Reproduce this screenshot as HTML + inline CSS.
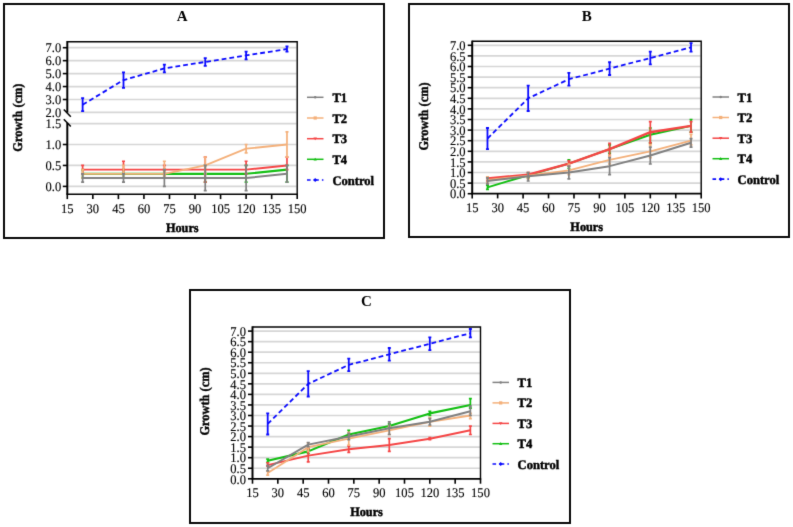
<!DOCTYPE html>
<html><head><meta charset="utf-8"><title>Growth charts</title>
<style>html,body{margin:0;padding:0;background:#fff;}body{width:793px;height:527px;overflow:hidden;font-family:"Liberation Serif",serif;}svg{display:block;}text{font-family:"Liberation Serif",serif;}</style>
</head><body>
<svg width="793" height="527" viewBox="0 0 793 527" font-family='"Liberation Serif", serif' fill="#000">
<defs><filter id="soft" filterUnits="userSpaceOnUse" x="0" y="0" width="793" height="527" color-interpolation-filters="sRGB"><feConvolveMatrix order="3" kernelMatrix="0.0100 0.0800 0.0100 0.0800 0.6400 0.0800 0.0100 0.0800 0.0100" divisor="1" edgeMode="duplicate" preserveAlpha="true"/></filter></defs>
<g filter="url(#soft)">
<rect width="793" height="527" fill="#fff"/>
<rect x="4" y="4" width="380" height="234" fill="none" stroke="#0a0a0a" stroke-width="2"/>
<text x="182.25" y="21.2" font-size="15" font-weight="bold" text-anchor="middle" >A</text>
<path d="M68.3,47.7H296.5" stroke="#d6d6d6" stroke-width="1.7"/>
<path d="M68.3,60.65H296.5" stroke="#d6d6d6" stroke-width="1.7"/>
<path d="M68.3,73.6H296.5" stroke="#d6d6d6" stroke-width="1.7"/>
<path d="M68.3,86.55H296.5" stroke="#d6d6d6" stroke-width="1.7"/>
<path d="M68.3,99.5H296.5" stroke="#d6d6d6" stroke-width="1.7"/>
<path d="M68.3,112.45H296.5" stroke="#d6d6d6" stroke-width="1.7"/>
<path d="M68.3,123.55H296.5" stroke="#d6d6d6" stroke-width="1.7"/>
<path d="M68.3,144.5H296.5" stroke="#d6d6d6" stroke-width="1.7"/>
<path d="M68.3,165.45H296.5" stroke="#d6d6d6" stroke-width="1.7"/>
<path d="M68.3,186.4H296.5" stroke="#d6d6d6" stroke-width="1.7"/>
<path d="M82.63,173.83L123.5,173.83L164.37,173.83L205.24,173.83L246.11,173.83L286.98,169.64" stroke="#12bf12" stroke-width="2.1" fill="none" stroke-linejoin="round"/>
<path d="M82.63,169.64V178.02M81.13,169.64H84.13M81.13,178.02H84.13" stroke="#12bf12" stroke-width="1.7" fill="none"/>
<path d="M123.5,169.64V178.02M122,169.64H125M122,178.02H125" stroke="#12bf12" stroke-width="1.7" fill="none"/>
<path d="M164.37,169.64V178.02M162.87,169.64H165.87M162.87,178.02H165.87" stroke="#12bf12" stroke-width="1.7" fill="none"/>
<path d="M205.24,165.45V182.21M203.74,165.45H206.74M203.74,182.21H206.74" stroke="#12bf12" stroke-width="1.7" fill="none"/>
<path d="M246.11,165.45V182.21M244.61,165.45H247.61M244.61,182.21H247.61" stroke="#12bf12" stroke-width="1.7" fill="none"/>
<path d="M286.98,165.45V182.21M285.48,165.45H288.48M285.48,182.21H288.48" stroke="#12bf12" stroke-width="1.7" fill="none"/>
<path d="M82.63,169.64L123.5,169.64L164.37,169.64L205.24,169.64L246.11,169.64L286.98,165.45" stroke="#f54545" stroke-width="1.9" fill="none" stroke-linejoin="round"/>
<path d="M82.63,165.45V173.83M81.13,165.45H84.13M81.13,173.83H84.13" stroke="#f54545" stroke-width="1.7" fill="none"/>
<path d="M123.5,161.26V173.83M122,161.26H125M122,173.83H125" stroke="#f54545" stroke-width="1.7" fill="none"/>
<path d="M164.37,165.45V173.83M162.87,165.45H165.87M162.87,173.83H165.87" stroke="#f54545" stroke-width="1.7" fill="none"/>
<path d="M205.24,157.07V182.21M203.74,157.07H206.74M203.74,182.21H206.74" stroke="#f54545" stroke-width="1.7" fill="none"/>
<path d="M246.11,161.26V173.83M244.61,161.26H247.61M244.61,173.83H247.61" stroke="#f54545" stroke-width="1.7" fill="none"/>
<path d="M286.98,157.07V169.64M285.48,157.07H288.48M285.48,169.64H288.48" stroke="#f54545" stroke-width="1.7" fill="none"/>
<path d="M82.63,173.83L123.5,173.83L164.37,173.83L205.24,165.45L246.11,148.69L286.98,144.5" stroke="#f4b07a" stroke-width="1.8" fill="none" stroke-linejoin="round"/>
<path d="M82.63,169.64V178.02M81.13,169.64H84.13M81.13,178.02H84.13" stroke="#f4b07a" stroke-width="1.7" fill="none"/>
<path d="M123.5,165.45V178.02M122,165.45H125M122,178.02H125" stroke="#f4b07a" stroke-width="1.7" fill="none"/>
<path d="M164.37,161.26V175.93M162.87,161.26H165.87M162.87,175.93H165.87" stroke="#f4b07a" stroke-width="1.7" fill="none"/>
<path d="M205.24,157.07V173.83M203.74,157.07H206.74M203.74,173.83H206.74" stroke="#f4b07a" stroke-width="1.7" fill="none"/>
<path d="M246.11,144.5V152.88M244.61,144.5H247.61M244.61,152.88H247.61" stroke="#f4b07a" stroke-width="1.7" fill="none"/>
<path d="M286.98,131.93V157.07M285.48,131.93H288.48M285.48,157.07H288.48" stroke="#f4b07a" stroke-width="1.7" fill="none"/>
<path d="M82.63,178.02L123.5,178.02L164.37,178.02L205.24,178.02L246.11,178.02L286.98,173.83" stroke="#808080" stroke-width="2.0" fill="none" stroke-linejoin="round"/>
<path d="M82.63,173.83V182.21M81.13,173.83H84.13M81.13,182.21H84.13" stroke="#808080" stroke-width="1.7" fill="none"/>
<path d="M123.5,173.83V182.21M122,173.83H125M122,182.21H125" stroke="#808080" stroke-width="1.7" fill="none"/>
<path d="M164.37,169.64V186.4M162.87,169.64H165.87M162.87,186.4H165.87" stroke="#808080" stroke-width="1.7" fill="none"/>
<path d="M205.24,165.45V190.59M203.74,165.45H206.74M203.74,190.59H206.74" stroke="#808080" stroke-width="1.7" fill="none"/>
<path d="M246.11,165.45V190.59M244.61,165.45H247.61M244.61,190.59H247.61" stroke="#808080" stroke-width="1.7" fill="none"/>
<path d="M286.98,165.45V182.21M285.48,165.45H288.48M285.48,182.21H288.48" stroke="#808080" stroke-width="1.7" fill="none"/>
<path d="M82.63,104.68L123.5,80.08L164.37,68.42L205.24,61.95L246.11,55.47L286.98,49" stroke="#0a0aff" stroke-width="1.8" fill="none" stroke-dasharray="4.8 3" stroke-linejoin="round"/>
<path d="M82.63,98.2V111.16M81.13,98.2H84.13M81.13,111.16H84.13" stroke="#0a0aff" stroke-width="1.8" fill="none"/>
<path d="M123.5,72.31V87.84M122,72.31H125M122,87.84H125" stroke="#0a0aff" stroke-width="1.8" fill="none"/>
<path d="M164.37,64.53V72.31M162.87,64.53H165.87M162.87,72.31H165.87" stroke="#0a0aff" stroke-width="1.8" fill="none"/>
<path d="M205.24,58.06V65.83M203.74,58.06H206.74M203.74,65.83H206.74" stroke="#0a0aff" stroke-width="1.8" fill="none"/>
<path d="M246.11,51.59V59.36M244.61,51.59H247.61M244.61,59.36H247.61" stroke="#0a0aff" stroke-width="1.8" fill="none"/>
<path d="M286.98,46.41V51.59M285.48,46.41H288.48M285.48,51.59H288.48" stroke="#0a0aff" stroke-width="1.8" fill="none"/>
<path d="M67.3,41.7H297.2V194.3" stroke="#000" stroke-width="1.4" fill="none"/>
<path d="M67.3,41V112.6" stroke="#000" stroke-width="2" fill="none"/>
<path d="M67.3,122.8V194" stroke="#000" stroke-width="2" fill="none"/>
<path d="M63.8,109.4L70.8,116.8" stroke="#000" stroke-width="1.5" fill="none"/>
<path d="M63.8,119.3L70.8,126.6" stroke="#000" stroke-width="1.5" fill="none"/>
<path d="M66.3,194.3H297.9" stroke="#000" stroke-width="1.6" fill="none"/>
<path d="M62.8,47.7H67.3" stroke="#000" stroke-width="1.6"/>
<text x="0" y="0" transform="translate(61.2,52.4) scale(0.95,1)" font-size="13.2" font-weight="normal" text-anchor="end" text-rendering="geometricPrecision" stroke="#000" stroke-width="0.12" >7.0</text>
<path d="M62.8,60.65H67.3" stroke="#000" stroke-width="1.6"/>
<text x="0" y="0" transform="translate(61.2,65.35) scale(0.95,1)" font-size="13.2" font-weight="normal" text-anchor="end" text-rendering="geometricPrecision" stroke="#000" stroke-width="0.12" >6.0</text>
<path d="M62.8,73.6H67.3" stroke="#000" stroke-width="1.6"/>
<text x="0" y="0" transform="translate(61.2,78.3) scale(0.95,1)" font-size="13.2" font-weight="normal" text-anchor="end" text-rendering="geometricPrecision" stroke="#000" stroke-width="0.12" >5.0</text>
<path d="M62.8,86.55H67.3" stroke="#000" stroke-width="1.6"/>
<text x="0" y="0" transform="translate(61.2,91.25) scale(0.95,1)" font-size="13.2" font-weight="normal" text-anchor="end" text-rendering="geometricPrecision" stroke="#000" stroke-width="0.12" >4.0</text>
<path d="M62.8,99.5H67.3" stroke="#000" stroke-width="1.6"/>
<text x="0" y="0" transform="translate(61.2,104.2) scale(0.95,1)" font-size="13.2" font-weight="normal" text-anchor="end" text-rendering="geometricPrecision" stroke="#000" stroke-width="0.12" >3.0</text>
<text x="0" y="0" transform="translate(61.2,117.15) scale(0.95,1)" font-size="13.2" font-weight="normal" text-anchor="end" text-rendering="geometricPrecision" stroke="#000" stroke-width="0.12" >2.0</text>
<text x="0" y="0" transform="translate(61.2,128.25) scale(0.95,1)" font-size="13.2" font-weight="normal" text-anchor="end" text-rendering="geometricPrecision" stroke="#000" stroke-width="0.12" >1.5</text>
<path d="M62.8,144.5H67.3" stroke="#000" stroke-width="1.6"/>
<text x="0" y="0" transform="translate(61.2,149.2) scale(0.95,1)" font-size="13.2" font-weight="normal" text-anchor="end" text-rendering="geometricPrecision" stroke="#000" stroke-width="0.12" >1.0</text>
<path d="M62.8,165.45H67.3" stroke="#000" stroke-width="1.6"/>
<text x="0" y="0" transform="translate(61.2,170.15) scale(0.95,1)" font-size="13.2" font-weight="normal" text-anchor="end" text-rendering="geometricPrecision" stroke="#000" stroke-width="0.12" >0.5</text>
<path d="M62.8,186.4H67.3" stroke="#000" stroke-width="1.6"/>
<text x="0" y="0" transform="translate(61.2,191.1) scale(0.95,1)" font-size="13.2" font-weight="normal" text-anchor="end" text-rendering="geometricPrecision" stroke="#000" stroke-width="0.12" >0.0</text>
<path d="M67.3,194.3V199.1" stroke="#000" stroke-width="1.6"/>
<text x="0" y="0" transform="translate(67.3,213) scale(0.95,1)" font-size="13.2" font-weight="normal" text-anchor="middle" text-rendering="geometricPrecision" stroke="#000" stroke-width="0.12" >15</text>
<path d="M92.84,194.3V199.1" stroke="#000" stroke-width="1.6"/>
<text x="0" y="0" transform="translate(92.84,213) scale(0.95,1)" font-size="13.2" font-weight="normal" text-anchor="middle" text-rendering="geometricPrecision" stroke="#000" stroke-width="0.12" >30</text>
<path d="M118.39,194.3V199.1" stroke="#000" stroke-width="1.6"/>
<text x="0" y="0" transform="translate(118.39,213) scale(0.95,1)" font-size="13.2" font-weight="normal" text-anchor="middle" text-rendering="geometricPrecision" stroke="#000" stroke-width="0.12" >45</text>
<path d="M143.93,194.3V199.1" stroke="#000" stroke-width="1.6"/>
<text x="0" y="0" transform="translate(143.93,213) scale(0.95,1)" font-size="13.2" font-weight="normal" text-anchor="middle" text-rendering="geometricPrecision" stroke="#000" stroke-width="0.12" >60</text>
<path d="M169.48,194.3V199.1" stroke="#000" stroke-width="1.6"/>
<text x="0" y="0" transform="translate(169.48,213) scale(0.95,1)" font-size="13.2" font-weight="normal" text-anchor="middle" text-rendering="geometricPrecision" stroke="#000" stroke-width="0.12" >75</text>
<path d="M195.02,194.3V199.1" stroke="#000" stroke-width="1.6"/>
<text x="0" y="0" transform="translate(195.02,213) scale(0.95,1)" font-size="13.2" font-weight="normal" text-anchor="middle" text-rendering="geometricPrecision" stroke="#000" stroke-width="0.12" >90</text>
<path d="M220.57,194.3V199.1" stroke="#000" stroke-width="1.6"/>
<text x="0" y="0" transform="translate(220.57,213) scale(0.95,1)" font-size="13.2" font-weight="normal" text-anchor="middle" text-rendering="geometricPrecision" stroke="#000" stroke-width="0.12" >105</text>
<path d="M246.11,194.3V199.1" stroke="#000" stroke-width="1.6"/>
<text x="0" y="0" transform="translate(246.11,213) scale(0.95,1)" font-size="13.2" font-weight="normal" text-anchor="middle" text-rendering="geometricPrecision" stroke="#000" stroke-width="0.12" >120</text>
<path d="M271.66,194.3V199.1" stroke="#000" stroke-width="1.6"/>
<text x="0" y="0" transform="translate(271.66,213) scale(0.95,1)" font-size="13.2" font-weight="normal" text-anchor="middle" text-rendering="geometricPrecision" stroke="#000" stroke-width="0.12" >135</text>
<path d="M297.2,194.3V199.1" stroke="#000" stroke-width="1.6"/>
<text x="0" y="0" transform="translate(297.2,213) scale(0.95,1)" font-size="13.2" font-weight="normal" text-anchor="middle" text-rendering="geometricPrecision" stroke="#000" stroke-width="0.12" >150</text>
<text x="0" y="0" transform="translate(182.25,231.6) scale(0.95,1)" font-size="12.9" font-weight="bold" text-anchor="middle" text-rendering="geometricPrecision" stroke="#000" stroke-width="0.45" >Hours</text>
<text x="0" y="0" font-size="13.3" font-weight="bold" text-anchor="middle" text-rendering="geometricPrecision" stroke="#111" stroke-width="0.45" transform="translate(22.2,117.6) rotate(-90) scale(0.93,1)">Growth (cm)</text>
<path d="M307,97.3H323.5" stroke="#808080" stroke-width="1.5"/>
<circle cx="315.2" cy="97.3" r="1.26" fill="#808080"/>
<text x="0" y="0" transform="translate(332.5,101.8) scale(0.965,1)" font-size="13.0" font-weight="bold" text-anchor="start" text-rendering="geometricPrecision" stroke="#000" stroke-width="0.45" >T1</text>
<path d="M307,118H323.5" stroke="#f4b07a" stroke-width="1.5"/>
<rect x="313.58" y="116.38" width="3.24" height="3.24" fill="#f4b07a"/>
<text x="0" y="0" transform="translate(332.5,122.5) scale(0.965,1)" font-size="13.0" font-weight="bold" text-anchor="start" text-rendering="geometricPrecision" stroke="#000" stroke-width="0.45" >T2</text>
<path d="M307,138.7H323.5" stroke="#f54545" stroke-width="1.5"/>
<path d="M313.4,137.44L317,137.44L315.2,140.32Z" fill="#f54545"/>
<text x="0" y="0" transform="translate(332.5,143.2) scale(0.965,1)" font-size="13.0" font-weight="bold" text-anchor="start" text-rendering="geometricPrecision" stroke="#000" stroke-width="0.45" >T3</text>
<path d="M307,159.3H323.5" stroke="#12bf12" stroke-width="1.5"/>
<path d="M315.2,157.68L316.82,160.6L313.58,160.6Z" fill="#12bf12"/>
<text x="0" y="0" transform="translate(332.5,163.8) scale(0.965,1)" font-size="13.0" font-weight="bold" text-anchor="start" text-rendering="geometricPrecision" stroke="#000" stroke-width="0.45" >T4</text>
<path d="M307,180H310.6M313.6,180H318.8M321.9,180H323.4" stroke="#0a0aff" stroke-width="1.7"/>
<path d="M313.22,180L315.2,178.02L317.18,180L315.2,181.98Z" fill="#0a0aff"/>
<text x="0" y="0" transform="translate(332.5,184.5) scale(0.965,1)" font-size="13.0" font-weight="bold" text-anchor="start" text-rendering="geometricPrecision" stroke="#000" stroke-width="0.45" >Control</text>
<rect x="409" y="4" width="380" height="233" fill="none" stroke="#0a0a0a" stroke-width="2"/>
<text x="586.7" y="21" font-size="15" font-weight="bold" text-anchor="middle" >B</text>
<path d="M473.2,45.3H700.5" stroke="#d6d6d6" stroke-width="1.7"/>
<path d="M473.2,55.9H700.5" stroke="#d6d6d6" stroke-width="1.7"/>
<path d="M473.2,66.5H700.5" stroke="#d6d6d6" stroke-width="1.7"/>
<path d="M473.2,77.1H700.5" stroke="#d6d6d6" stroke-width="1.7"/>
<path d="M473.2,87.7H700.5" stroke="#d6d6d6" stroke-width="1.7"/>
<path d="M473.2,98.3H700.5" stroke="#d6d6d6" stroke-width="1.7"/>
<path d="M473.2,108.9H700.5" stroke="#d6d6d6" stroke-width="1.7"/>
<path d="M473.2,119.5H700.5" stroke="#d6d6d6" stroke-width="1.7"/>
<path d="M473.2,130.1H700.5" stroke="#d6d6d6" stroke-width="1.7"/>
<path d="M473.2,140.7H700.5" stroke="#d6d6d6" stroke-width="1.7"/>
<path d="M473.2,151.3H700.5" stroke="#d6d6d6" stroke-width="1.7"/>
<path d="M473.2,161.9H700.5" stroke="#d6d6d6" stroke-width="1.7"/>
<path d="M473.2,172.5H700.5" stroke="#d6d6d6" stroke-width="1.7"/>
<path d="M473.2,183.1H700.5" stroke="#d6d6d6" stroke-width="1.7"/>
<path d="M487.47,187.34L528.18,175.26L568.89,163.6L609.6,149.18L650.31,134.76L691.02,125.86" stroke="#12bf12" stroke-width="1.9" fill="none" stroke-linejoin="round"/>
<path d="M487.47,185.22V189.46M485.97,185.22H488.97M485.97,189.46H488.97" stroke="#12bf12" stroke-width="1.7" fill="none"/>
<path d="M528.18,173.56V177.8M526.68,173.56H529.68M526.68,177.8H529.68" stroke="#12bf12" stroke-width="1.7" fill="none"/>
<path d="M568.89,159.78V168.26M567.39,159.78H570.39M567.39,168.26H570.39" stroke="#12bf12" stroke-width="1.7" fill="none"/>
<path d="M609.6,144.94V153.42M608.1,144.94H611.1M608.1,153.42H611.1" stroke="#12bf12" stroke-width="1.7" fill="none"/>
<path d="M650.31,127.98V142.82M648.81,127.98H651.81M648.81,142.82H651.81" stroke="#12bf12" stroke-width="1.7" fill="none"/>
<path d="M691.02,119.5V132.22M689.52,119.5H692.52M689.52,132.22H692.52" stroke="#12bf12" stroke-width="1.7" fill="none"/>
<path d="M487.47,178.44L528.18,174.62L568.89,163.6L609.6,149.18L650.31,132.22L691.02,125.86" stroke="#f54545" stroke-width="2.4" fill="none" stroke-linejoin="round"/>
<path d="M487.47,176.74V180.98M485.97,176.74H488.97M485.97,180.98H488.97" stroke="#f54545" stroke-width="1.7" fill="none"/>
<path d="M528.18,172.5V176.74M526.68,172.5H529.68M526.68,176.74H529.68" stroke="#f54545" stroke-width="1.7" fill="none"/>
<path d="M568.89,160.84V166.14M567.39,160.84H570.39M567.39,166.14H570.39" stroke="#f54545" stroke-width="1.7" fill="none"/>
<path d="M609.6,143.46V155.54M608.1,143.46H611.1M608.1,155.54H611.1" stroke="#f54545" stroke-width="1.7" fill="none"/>
<path d="M650.31,121.62V142.82M648.81,121.62H651.81M648.81,142.82H651.81" stroke="#f54545" stroke-width="1.7" fill="none"/>
<path d="M691.02,121.62V132.22M689.52,121.62H692.52M689.52,132.22H692.52" stroke="#f54545" stroke-width="1.7" fill="none"/>
<path d="M487.47,179.92L528.18,175.68L568.89,170.38L609.6,159.78L650.31,151.3L691.02,140.7" stroke="#f4b07a" stroke-width="1.8" fill="none" stroke-linejoin="round"/>
<path d="M487.47,176.74V183.1M485.97,176.74H488.97M485.97,183.1H488.97" stroke="#f4b07a" stroke-width="1.7" fill="none"/>
<path d="M528.18,172.5V178.86M526.68,172.5H529.68M526.68,178.86H529.68" stroke="#f4b07a" stroke-width="1.7" fill="none"/>
<path d="M568.89,164.02V174.62M567.39,164.02H570.39M567.39,174.62H570.39" stroke="#f4b07a" stroke-width="1.7" fill="none"/>
<path d="M609.6,155.54V164.02M608.1,155.54H611.1M608.1,164.02H611.1" stroke="#f4b07a" stroke-width="1.7" fill="none"/>
<path d="M650.31,144.94V157.66M648.81,144.94H651.81M648.81,157.66H651.81" stroke="#f4b07a" stroke-width="1.7" fill="none"/>
<path d="M691.02,134.34V144.94M689.52,134.34H692.52M689.52,144.94H692.52" stroke="#f4b07a" stroke-width="1.7" fill="none"/>
<path d="M487.47,180.98L528.18,176.32L568.89,172.5L609.6,166.14L650.31,155.54L691.02,142.82" stroke="#808080" stroke-width="2.0" fill="none" stroke-linejoin="round"/>
<path d="M487.47,177.8V184.16M485.97,177.8H488.97M485.97,184.16H488.97" stroke="#808080" stroke-width="1.7" fill="none"/>
<path d="M528.18,172.5V180.98M526.68,172.5H529.68M526.68,180.98H529.68" stroke="#808080" stroke-width="1.7" fill="none"/>
<path d="M568.89,166.14V178.86M567.39,166.14H570.39M567.39,178.86H570.39" stroke="#808080" stroke-width="1.7" fill="none"/>
<path d="M609.6,157.66V174.62M608.1,157.66H611.1M608.1,174.62H611.1" stroke="#808080" stroke-width="1.7" fill="none"/>
<path d="M650.31,147.06V164.02M648.81,147.06H651.81M648.81,164.02H651.81" stroke="#808080" stroke-width="1.7" fill="none"/>
<path d="M691.02,138.58V147.06M689.52,138.58H692.52M689.52,147.06H692.52" stroke="#808080" stroke-width="1.7" fill="none"/>
<path d="M487.47,138.58L528.18,98.3L568.89,79.22L609.6,68.62L650.31,58.02L691.02,47.42" stroke="#0a0aff" stroke-width="1.8" fill="none" stroke-dasharray="4.8 3" stroke-linejoin="round"/>
<path d="M487.47,127.98V149.18M485.97,127.98H488.97M485.97,149.18H488.97" stroke="#0a0aff" stroke-width="1.8" fill="none"/>
<path d="M528.18,85.58V111.02M526.68,85.58H529.68M526.68,111.02H529.68" stroke="#0a0aff" stroke-width="1.8" fill="none"/>
<path d="M568.89,72.86V85.58M567.39,72.86H570.39M567.39,85.58H570.39" stroke="#0a0aff" stroke-width="1.8" fill="none"/>
<path d="M609.6,62.26V74.98M608.1,62.26H611.1M608.1,74.98H611.1" stroke="#0a0aff" stroke-width="1.8" fill="none"/>
<path d="M650.31,51.66V64.38M648.81,51.66H651.81M648.81,64.38H651.81" stroke="#0a0aff" stroke-width="1.8" fill="none"/>
<path d="M691.02,43.18V51.66M689.52,43.18H692.52M689.52,51.66H692.52" stroke="#0a0aff" stroke-width="1.8" fill="none"/>
<path d="M472.2,41.3H701.2V193.6" stroke="#000" stroke-width="1.4" fill="none"/>
<path d="M472.2,40.6V193.6" stroke="#000" stroke-width="2" fill="none"/>
<path d="M471.2,193.6H701.9" stroke="#000" stroke-width="1.6" fill="none"/>
<path d="M467.7,45.3H472.2" stroke="#000" stroke-width="1.6"/>
<text x="0" y="0" transform="translate(465.6,50) scale(0.95,1)" font-size="13.2" font-weight="normal" text-anchor="end" text-rendering="geometricPrecision" stroke="#000" stroke-width="0.12" >7.0</text>
<path d="M467.7,55.9H472.2" stroke="#000" stroke-width="1.6"/>
<text x="0" y="0" transform="translate(465.6,60.6) scale(0.95,1)" font-size="13.2" font-weight="normal" text-anchor="end" text-rendering="geometricPrecision" stroke="#000" stroke-width="0.12" >6.5</text>
<path d="M467.7,66.5H472.2" stroke="#000" stroke-width="1.6"/>
<text x="0" y="0" transform="translate(465.6,71.2) scale(0.95,1)" font-size="13.2" font-weight="normal" text-anchor="end" text-rendering="geometricPrecision" stroke="#000" stroke-width="0.12" >6.0</text>
<path d="M467.7,77.1H472.2" stroke="#000" stroke-width="1.6"/>
<text x="0" y="0" transform="translate(465.6,81.8) scale(0.95,1)" font-size="13.2" font-weight="normal" text-anchor="end" text-rendering="geometricPrecision" stroke="#000" stroke-width="0.12" >5.5</text>
<path d="M467.7,87.7H472.2" stroke="#000" stroke-width="1.6"/>
<text x="0" y="0" transform="translate(465.6,92.4) scale(0.95,1)" font-size="13.2" font-weight="normal" text-anchor="end" text-rendering="geometricPrecision" stroke="#000" stroke-width="0.12" >5.0</text>
<path d="M467.7,98.3H472.2" stroke="#000" stroke-width="1.6"/>
<text x="0" y="0" transform="translate(465.6,103) scale(0.95,1)" font-size="13.2" font-weight="normal" text-anchor="end" text-rendering="geometricPrecision" stroke="#000" stroke-width="0.12" >4.5</text>
<path d="M467.7,108.9H472.2" stroke="#000" stroke-width="1.6"/>
<text x="0" y="0" transform="translate(465.6,113.6) scale(0.95,1)" font-size="13.2" font-weight="normal" text-anchor="end" text-rendering="geometricPrecision" stroke="#000" stroke-width="0.12" >4.0</text>
<path d="M467.7,119.5H472.2" stroke="#000" stroke-width="1.6"/>
<text x="0" y="0" transform="translate(465.6,124.2) scale(0.95,1)" font-size="13.2" font-weight="normal" text-anchor="end" text-rendering="geometricPrecision" stroke="#000" stroke-width="0.12" >3.5</text>
<path d="M467.7,130.1H472.2" stroke="#000" stroke-width="1.6"/>
<text x="0" y="0" transform="translate(465.6,134.8) scale(0.95,1)" font-size="13.2" font-weight="normal" text-anchor="end" text-rendering="geometricPrecision" stroke="#000" stroke-width="0.12" >3.0</text>
<path d="M467.7,140.7H472.2" stroke="#000" stroke-width="1.6"/>
<text x="0" y="0" transform="translate(465.6,145.4) scale(0.95,1)" font-size="13.2" font-weight="normal" text-anchor="end" text-rendering="geometricPrecision" stroke="#000" stroke-width="0.12" >2.5</text>
<path d="M467.7,151.3H472.2" stroke="#000" stroke-width="1.6"/>
<text x="0" y="0" transform="translate(465.6,156) scale(0.95,1)" font-size="13.2" font-weight="normal" text-anchor="end" text-rendering="geometricPrecision" stroke="#000" stroke-width="0.12" >2.0</text>
<path d="M467.7,161.9H472.2" stroke="#000" stroke-width="1.6"/>
<text x="0" y="0" transform="translate(465.6,166.6) scale(0.95,1)" font-size="13.2" font-weight="normal" text-anchor="end" text-rendering="geometricPrecision" stroke="#000" stroke-width="0.12" >1.5</text>
<path d="M467.7,172.5H472.2" stroke="#000" stroke-width="1.6"/>
<text x="0" y="0" transform="translate(465.6,177.2) scale(0.95,1)" font-size="13.2" font-weight="normal" text-anchor="end" text-rendering="geometricPrecision" stroke="#000" stroke-width="0.12" >1.0</text>
<path d="M467.7,183.1H472.2" stroke="#000" stroke-width="1.6"/>
<text x="0" y="0" transform="translate(465.6,187.8) scale(0.95,1)" font-size="13.2" font-weight="normal" text-anchor="end" text-rendering="geometricPrecision" stroke="#000" stroke-width="0.12" >0.5</text>
<path d="M467.7,193.7H472.2" stroke="#000" stroke-width="1.6"/>
<text x="0" y="0" transform="translate(465.6,198.4) scale(0.95,1)" font-size="13.2" font-weight="normal" text-anchor="end" text-rendering="geometricPrecision" stroke="#000" stroke-width="0.12" >0.0</text>
<path d="M472.2,193.6V198.4" stroke="#000" stroke-width="1.6"/>
<text x="0" y="0" transform="translate(472.2,212.3) scale(0.95,1)" font-size="13.2" font-weight="normal" text-anchor="middle" text-rendering="geometricPrecision" stroke="#000" stroke-width="0.12" >15</text>
<path d="M497.64,193.6V198.4" stroke="#000" stroke-width="1.6"/>
<text x="0" y="0" transform="translate(497.64,212.3) scale(0.95,1)" font-size="13.2" font-weight="normal" text-anchor="middle" text-rendering="geometricPrecision" stroke="#000" stroke-width="0.12" >30</text>
<path d="M523.09,193.6V198.4" stroke="#000" stroke-width="1.6"/>
<text x="0" y="0" transform="translate(523.09,212.3) scale(0.95,1)" font-size="13.2" font-weight="normal" text-anchor="middle" text-rendering="geometricPrecision" stroke="#000" stroke-width="0.12" >45</text>
<path d="M548.53,193.6V198.4" stroke="#000" stroke-width="1.6"/>
<text x="0" y="0" transform="translate(548.53,212.3) scale(0.95,1)" font-size="13.2" font-weight="normal" text-anchor="middle" text-rendering="geometricPrecision" stroke="#000" stroke-width="0.12" >60</text>
<path d="M573.98,193.6V198.4" stroke="#000" stroke-width="1.6"/>
<text x="0" y="0" transform="translate(573.98,212.3) scale(0.95,1)" font-size="13.2" font-weight="normal" text-anchor="middle" text-rendering="geometricPrecision" stroke="#000" stroke-width="0.12" >75</text>
<path d="M599.42,193.6V198.4" stroke="#000" stroke-width="1.6"/>
<text x="0" y="0" transform="translate(599.42,212.3) scale(0.95,1)" font-size="13.2" font-weight="normal" text-anchor="middle" text-rendering="geometricPrecision" stroke="#000" stroke-width="0.12" >90</text>
<path d="M624.87,193.6V198.4" stroke="#000" stroke-width="1.6"/>
<text x="0" y="0" transform="translate(624.87,212.3) scale(0.95,1)" font-size="13.2" font-weight="normal" text-anchor="middle" text-rendering="geometricPrecision" stroke="#000" stroke-width="0.12" >105</text>
<path d="M650.31,193.6V198.4" stroke="#000" stroke-width="1.6"/>
<text x="0" y="0" transform="translate(650.31,212.3) scale(0.95,1)" font-size="13.2" font-weight="normal" text-anchor="middle" text-rendering="geometricPrecision" stroke="#000" stroke-width="0.12" >120</text>
<path d="M675.76,193.6V198.4" stroke="#000" stroke-width="1.6"/>
<text x="0" y="0" transform="translate(675.76,212.3) scale(0.95,1)" font-size="13.2" font-weight="normal" text-anchor="middle" text-rendering="geometricPrecision" stroke="#000" stroke-width="0.12" >135</text>
<path d="M701.2,193.6V198.4" stroke="#000" stroke-width="1.6"/>
<text x="0" y="0" transform="translate(701.2,212.3) scale(0.95,1)" font-size="13.2" font-weight="normal" text-anchor="middle" text-rendering="geometricPrecision" stroke="#000" stroke-width="0.12" >150</text>
<text x="0" y="0" transform="translate(586.7,230.6) scale(0.95,1)" font-size="12.9" font-weight="bold" text-anchor="middle" text-rendering="geometricPrecision" stroke="#000" stroke-width="0.45" >Hours</text>
<text x="0" y="0" font-size="13.3" font-weight="bold" text-anchor="middle" text-rendering="geometricPrecision" stroke="#111" stroke-width="0.45" transform="translate(428.2,116.5) rotate(-90) scale(0.93,1)">Growth (cm)</text>
<path d="M712.5,97H729" stroke="#808080" stroke-width="1.5"/>
<circle cx="720.7" cy="97" r="1.26" fill="#808080"/>
<text x="0" y="0" transform="translate(737.6,101.5) scale(0.965,1)" font-size="13.0" font-weight="bold" text-anchor="start" text-rendering="geometricPrecision" stroke="#000" stroke-width="0.45" >T1</text>
<path d="M712.5,117.5H729" stroke="#f4b07a" stroke-width="1.5"/>
<rect x="719.08" y="115.88" width="3.24" height="3.24" fill="#f4b07a"/>
<text x="0" y="0" transform="translate(737.6,122) scale(0.965,1)" font-size="13.0" font-weight="bold" text-anchor="start" text-rendering="geometricPrecision" stroke="#000" stroke-width="0.45" >T2</text>
<path d="M712.5,138.2H729" stroke="#f54545" stroke-width="1.5"/>
<path d="M718.9,136.94L722.5,136.94L720.7,139.82Z" fill="#f54545"/>
<text x="0" y="0" transform="translate(737.6,142.7) scale(0.965,1)" font-size="13.0" font-weight="bold" text-anchor="start" text-rendering="geometricPrecision" stroke="#000" stroke-width="0.45" >T3</text>
<path d="M712.5,158.7H729" stroke="#12bf12" stroke-width="1.5"/>
<path d="M720.7,157.08L722.32,160L719.08,160Z" fill="#12bf12"/>
<text x="0" y="0" transform="translate(737.6,163.2) scale(0.965,1)" font-size="13.0" font-weight="bold" text-anchor="start" text-rendering="geometricPrecision" stroke="#000" stroke-width="0.45" >T4</text>
<path d="M712.5,179.2H716.1M719.1,179.2H724.3M727.4,179.2H728.9" stroke="#0a0aff" stroke-width="1.7"/>
<path d="M718.72,179.2L720.7,177.22L722.68,179.2L720.7,181.18Z" fill="#0a0aff"/>
<text x="0" y="0" transform="translate(737.6,183.7) scale(0.965,1)" font-size="13.0" font-weight="bold" text-anchor="start" text-rendering="geometricPrecision" stroke="#000" stroke-width="0.45" >Control</text>
<rect x="190" y="290" width="380" height="233" fill="none" stroke="#0a0a0a" stroke-width="2"/>
<text x="366.5" y="306" font-size="15" font-weight="bold" text-anchor="middle" >C</text>
<path d="M253.5,331.1H479.8" stroke="#d6d6d6" stroke-width="1.7"/>
<path d="M253.5,341.65H479.8" stroke="#d6d6d6" stroke-width="1.7"/>
<path d="M253.5,352.2H479.8" stroke="#d6d6d6" stroke-width="1.7"/>
<path d="M253.5,362.75H479.8" stroke="#d6d6d6" stroke-width="1.7"/>
<path d="M253.5,373.3H479.8" stroke="#d6d6d6" stroke-width="1.7"/>
<path d="M253.5,383.85H479.8" stroke="#d6d6d6" stroke-width="1.7"/>
<path d="M253.5,394.4H479.8" stroke="#d6d6d6" stroke-width="1.7"/>
<path d="M253.5,404.95H479.8" stroke="#d6d6d6" stroke-width="1.7"/>
<path d="M253.5,415.5H479.8" stroke="#d6d6d6" stroke-width="1.7"/>
<path d="M253.5,426.05H479.8" stroke="#d6d6d6" stroke-width="1.7"/>
<path d="M253.5,436.6H479.8" stroke="#d6d6d6" stroke-width="1.7"/>
<path d="M253.5,447.15H479.8" stroke="#d6d6d6" stroke-width="1.7"/>
<path d="M253.5,457.7H479.8" stroke="#d6d6d6" stroke-width="1.7"/>
<path d="M253.5,468.25H479.8" stroke="#d6d6d6" stroke-width="1.7"/>
<path d="M267.7,460.65L308.23,451.37L348.77,434.49L389.3,426.05L429.83,413.39L470.37,404.95" stroke="#12bf12" stroke-width="2.1" fill="none" stroke-linejoin="round"/>
<path d="M267.7,459.18V462.34M266.2,459.18H269.2M266.2,462.34H269.2" stroke="#12bf12" stroke-width="1.7" fill="none"/>
<path d="M308.23,449.26V453.48M306.73,449.26H309.73M306.73,453.48H309.73" stroke="#12bf12" stroke-width="1.7" fill="none"/>
<path d="M348.77,430.27V437.66M347.27,430.27H350.27M347.27,437.66H350.27" stroke="#12bf12" stroke-width="1.7" fill="none"/>
<path d="M389.3,423.94V428.16M387.8,423.94H390.8M387.8,428.16H390.8" stroke="#12bf12" stroke-width="1.7" fill="none"/>
<path d="M429.83,411.28V415.5M428.33,411.28H431.33M428.33,415.5H431.33" stroke="#12bf12" stroke-width="1.7" fill="none"/>
<path d="M470.37,398.62V408.12M468.87,398.62H471.87M468.87,408.12H471.87" stroke="#12bf12" stroke-width="1.7" fill="none"/>
<path d="M267.7,465.09L308.23,455.59L348.77,449.26L389.3,445.04L429.83,438.71L470.37,430.27" stroke="#f54545" stroke-width="1.9" fill="none" stroke-linejoin="round"/>
<path d="M267.7,462.76V466.14M266.2,462.76H269.2M266.2,466.14H269.2" stroke="#f54545" stroke-width="1.7" fill="none"/>
<path d="M308.23,448.63V461.92M306.73,448.63H309.73M306.73,461.92H309.73" stroke="#f54545" stroke-width="1.7" fill="none"/>
<path d="M348.77,446.1V452.43M347.27,446.1H350.27M347.27,452.43H350.27" stroke="#f54545" stroke-width="1.7" fill="none"/>
<path d="M389.3,438.71V451.37M387.8,438.71H390.8M387.8,451.37H390.8" stroke="#f54545" stroke-width="1.7" fill="none"/>
<path d="M429.83,437.66V439.76M428.33,437.66H431.33M428.33,439.76H431.33" stroke="#f54545" stroke-width="1.7" fill="none"/>
<path d="M470.37,426.05V434.49M468.87,426.05H471.87M468.87,434.49H471.87" stroke="#f54545" stroke-width="1.7" fill="none"/>
<path d="M267.7,472.89L308.23,447.15L348.77,438.71L389.3,430.27L429.83,421.83L470.37,415.5" stroke="#f4b07a" stroke-width="1.8" fill="none" stroke-linejoin="round"/>
<path d="M267.7,470.99V475.21M266.2,470.99H269.2M266.2,475.21H269.2" stroke="#f4b07a" stroke-width="1.7" fill="none"/>
<path d="M308.23,442.93V451.37M306.73,442.93H309.73M306.73,451.37H309.73" stroke="#f4b07a" stroke-width="1.7" fill="none"/>
<path d="M348.77,432.38V445.04M347.27,432.38H350.27M347.27,445.04H350.27" stroke="#f4b07a" stroke-width="1.7" fill="none"/>
<path d="M389.3,426.05V434.49M387.8,426.05H390.8M387.8,434.49H390.8" stroke="#f4b07a" stroke-width="1.7" fill="none"/>
<path d="M429.83,417.61V426.05M428.33,417.61H431.33M428.33,426.05H431.33" stroke="#f4b07a" stroke-width="1.7" fill="none"/>
<path d="M470.37,413.39V418.67M468.87,413.39H471.87M468.87,418.67H471.87" stroke="#f4b07a" stroke-width="1.7" fill="none"/>
<path d="M267.7,468.25L308.23,444.62L348.77,436.6L389.3,428.16L429.83,421.83L470.37,411.28" stroke="#808080" stroke-width="2.0" fill="none" stroke-linejoin="round"/>
<path d="M267.7,465.3V470.78M266.2,465.3H269.2M266.2,470.78H269.2" stroke="#808080" stroke-width="1.7" fill="none"/>
<path d="M308.23,442.51V446.73M306.73,442.51H309.73M306.73,446.73H309.73" stroke="#808080" stroke-width="1.7" fill="none"/>
<path d="M348.77,433.44V439.76M347.27,433.44H350.27M347.27,439.76H350.27" stroke="#808080" stroke-width="1.7" fill="none"/>
<path d="M389.3,421.83V434.49M387.8,421.83H390.8M387.8,434.49H390.8" stroke="#808080" stroke-width="1.7" fill="none"/>
<path d="M429.83,418.67V425M428.33,418.67H431.33M428.33,425H431.33" stroke="#808080" stroke-width="1.7" fill="none"/>
<path d="M470.37,406V415.5M468.87,406H471.87M468.87,415.5H471.87" stroke="#808080" stroke-width="1.7" fill="none"/>
<path d="M267.7,423.94L308.23,383.85L348.77,364.86L389.3,354.31L429.83,343.76L470.37,333.21" stroke="#0a0aff" stroke-width="1.8" fill="none" stroke-dasharray="4.8 3" stroke-linejoin="round"/>
<path d="M267.7,413.39V434.49M266.2,413.39H269.2M266.2,434.49H269.2" stroke="#0a0aff" stroke-width="1.8" fill="none"/>
<path d="M308.23,371.19V396.51M306.73,371.19H309.73M306.73,396.51H309.73" stroke="#0a0aff" stroke-width="1.8" fill="none"/>
<path d="M348.77,358.53V371.19M347.27,358.53H350.27M347.27,371.19H350.27" stroke="#0a0aff" stroke-width="1.8" fill="none"/>
<path d="M389.3,347.98V360.64M387.8,347.98H390.8M387.8,360.64H390.8" stroke="#0a0aff" stroke-width="1.8" fill="none"/>
<path d="M429.83,337.43V350.09M428.33,337.43H431.33M428.33,350.09H431.33" stroke="#0a0aff" stroke-width="1.8" fill="none"/>
<path d="M470.37,328.99V337.43M468.87,328.99H471.87M468.87,337.43H471.87" stroke="#0a0aff" stroke-width="1.8" fill="none"/>
<path d="M252.5,327H480.5V478.9" stroke="#000" stroke-width="1.4" fill="none"/>
<path d="M252.5,326.3V478.9" stroke="#000" stroke-width="2" fill="none"/>
<path d="M251.5,478.9H481.2" stroke="#000" stroke-width="1.6" fill="none"/>
<path d="M248,331.1H252.5" stroke="#000" stroke-width="1.6"/>
<text x="0" y="0" transform="translate(246,335.8) scale(0.95,1)" font-size="13.2" font-weight="normal" text-anchor="end" text-rendering="geometricPrecision" stroke="#000" stroke-width="0.12" >7.0</text>
<path d="M248,341.65H252.5" stroke="#000" stroke-width="1.6"/>
<text x="0" y="0" transform="translate(246,346.35) scale(0.95,1)" font-size="13.2" font-weight="normal" text-anchor="end" text-rendering="geometricPrecision" stroke="#000" stroke-width="0.12" >6.5</text>
<path d="M248,352.2H252.5" stroke="#000" stroke-width="1.6"/>
<text x="0" y="0" transform="translate(246,356.9) scale(0.95,1)" font-size="13.2" font-weight="normal" text-anchor="end" text-rendering="geometricPrecision" stroke="#000" stroke-width="0.12" >6.0</text>
<path d="M248,362.75H252.5" stroke="#000" stroke-width="1.6"/>
<text x="0" y="0" transform="translate(246,367.45) scale(0.95,1)" font-size="13.2" font-weight="normal" text-anchor="end" text-rendering="geometricPrecision" stroke="#000" stroke-width="0.12" >5.5</text>
<path d="M248,373.3H252.5" stroke="#000" stroke-width="1.6"/>
<text x="0" y="0" transform="translate(246,378) scale(0.95,1)" font-size="13.2" font-weight="normal" text-anchor="end" text-rendering="geometricPrecision" stroke="#000" stroke-width="0.12" >5.0</text>
<path d="M248,383.85H252.5" stroke="#000" stroke-width="1.6"/>
<text x="0" y="0" transform="translate(246,388.55) scale(0.95,1)" font-size="13.2" font-weight="normal" text-anchor="end" text-rendering="geometricPrecision" stroke="#000" stroke-width="0.12" >4.5</text>
<path d="M248,394.4H252.5" stroke="#000" stroke-width="1.6"/>
<text x="0" y="0" transform="translate(246,399.1) scale(0.95,1)" font-size="13.2" font-weight="normal" text-anchor="end" text-rendering="geometricPrecision" stroke="#000" stroke-width="0.12" >4.0</text>
<path d="M248,404.95H252.5" stroke="#000" stroke-width="1.6"/>
<text x="0" y="0" transform="translate(246,409.65) scale(0.95,1)" font-size="13.2" font-weight="normal" text-anchor="end" text-rendering="geometricPrecision" stroke="#000" stroke-width="0.12" >3.5</text>
<path d="M248,415.5H252.5" stroke="#000" stroke-width="1.6"/>
<text x="0" y="0" transform="translate(246,420.2) scale(0.95,1)" font-size="13.2" font-weight="normal" text-anchor="end" text-rendering="geometricPrecision" stroke="#000" stroke-width="0.12" >3.0</text>
<path d="M248,426.05H252.5" stroke="#000" stroke-width="1.6"/>
<text x="0" y="0" transform="translate(246,430.75) scale(0.95,1)" font-size="13.2" font-weight="normal" text-anchor="end" text-rendering="geometricPrecision" stroke="#000" stroke-width="0.12" >2.5</text>
<path d="M248,436.6H252.5" stroke="#000" stroke-width="1.6"/>
<text x="0" y="0" transform="translate(246,441.3) scale(0.95,1)" font-size="13.2" font-weight="normal" text-anchor="end" text-rendering="geometricPrecision" stroke="#000" stroke-width="0.12" >2.0</text>
<path d="M248,447.15H252.5" stroke="#000" stroke-width="1.6"/>
<text x="0" y="0" transform="translate(246,451.85) scale(0.95,1)" font-size="13.2" font-weight="normal" text-anchor="end" text-rendering="geometricPrecision" stroke="#000" stroke-width="0.12" >1.5</text>
<path d="M248,457.7H252.5" stroke="#000" stroke-width="1.6"/>
<text x="0" y="0" transform="translate(246,462.4) scale(0.95,1)" font-size="13.2" font-weight="normal" text-anchor="end" text-rendering="geometricPrecision" stroke="#000" stroke-width="0.12" >1.0</text>
<path d="M248,468.25H252.5" stroke="#000" stroke-width="1.6"/>
<text x="0" y="0" transform="translate(246,472.95) scale(0.95,1)" font-size="13.2" font-weight="normal" text-anchor="end" text-rendering="geometricPrecision" stroke="#000" stroke-width="0.12" >0.5</text>
<path d="M248,478.8H252.5" stroke="#000" stroke-width="1.6"/>
<text x="0" y="0" transform="translate(246,483.5) scale(0.95,1)" font-size="13.2" font-weight="normal" text-anchor="end" text-rendering="geometricPrecision" stroke="#000" stroke-width="0.12" >0.0</text>
<path d="M252.5,478.9V483.7" stroke="#000" stroke-width="1.6"/>
<text x="0" y="0" transform="translate(252.5,497.2) scale(0.95,1)" font-size="13.2" font-weight="normal" text-anchor="middle" text-rendering="geometricPrecision" stroke="#000" stroke-width="0.12" >15</text>
<path d="M277.83,478.9V483.7" stroke="#000" stroke-width="1.6"/>
<text x="0" y="0" transform="translate(277.83,497.2) scale(0.95,1)" font-size="13.2" font-weight="normal" text-anchor="middle" text-rendering="geometricPrecision" stroke="#000" stroke-width="0.12" >30</text>
<path d="M303.17,478.9V483.7" stroke="#000" stroke-width="1.6"/>
<text x="0" y="0" transform="translate(303.17,497.2) scale(0.95,1)" font-size="13.2" font-weight="normal" text-anchor="middle" text-rendering="geometricPrecision" stroke="#000" stroke-width="0.12" >45</text>
<path d="M328.5,478.9V483.7" stroke="#000" stroke-width="1.6"/>
<text x="0" y="0" transform="translate(328.5,497.2) scale(0.95,1)" font-size="13.2" font-weight="normal" text-anchor="middle" text-rendering="geometricPrecision" stroke="#000" stroke-width="0.12" >60</text>
<path d="M353.83,478.9V483.7" stroke="#000" stroke-width="1.6"/>
<text x="0" y="0" transform="translate(353.83,497.2) scale(0.95,1)" font-size="13.2" font-weight="normal" text-anchor="middle" text-rendering="geometricPrecision" stroke="#000" stroke-width="0.12" >75</text>
<path d="M379.17,478.9V483.7" stroke="#000" stroke-width="1.6"/>
<text x="0" y="0" transform="translate(379.17,497.2) scale(0.95,1)" font-size="13.2" font-weight="normal" text-anchor="middle" text-rendering="geometricPrecision" stroke="#000" stroke-width="0.12" >90</text>
<path d="M404.5,478.9V483.7" stroke="#000" stroke-width="1.6"/>
<text x="0" y="0" transform="translate(404.5,497.2) scale(0.95,1)" font-size="13.2" font-weight="normal" text-anchor="middle" text-rendering="geometricPrecision" stroke="#000" stroke-width="0.12" >105</text>
<path d="M429.83,478.9V483.7" stroke="#000" stroke-width="1.6"/>
<text x="0" y="0" transform="translate(429.83,497.2) scale(0.95,1)" font-size="13.2" font-weight="normal" text-anchor="middle" text-rendering="geometricPrecision" stroke="#000" stroke-width="0.12" >120</text>
<path d="M455.17,478.9V483.7" stroke="#000" stroke-width="1.6"/>
<text x="0" y="0" transform="translate(455.17,497.2) scale(0.95,1)" font-size="13.2" font-weight="normal" text-anchor="middle" text-rendering="geometricPrecision" stroke="#000" stroke-width="0.12" >135</text>
<path d="M480.5,478.9V483.7" stroke="#000" stroke-width="1.6"/>
<text x="0" y="0" transform="translate(480.5,497.2) scale(0.95,1)" font-size="13.2" font-weight="normal" text-anchor="middle" text-rendering="geometricPrecision" stroke="#000" stroke-width="0.12" >150</text>
<text x="0" y="0" transform="translate(366.5,515.7) scale(0.95,1)" font-size="12.9" font-weight="bold" text-anchor="middle" text-rendering="geometricPrecision" stroke="#000" stroke-width="0.45" >Hours</text>
<text x="0" y="0" font-size="13.3" font-weight="bold" text-anchor="middle" text-rendering="geometricPrecision" stroke="#111" stroke-width="0.45" transform="translate(208.5,401.5) rotate(-90) scale(0.93,1)">Growth (cm)</text>
<path d="M492.5,382.4H509" stroke="#808080" stroke-width="1.5"/>
<circle cx="500.7" cy="382.4" r="1.26" fill="#808080"/>
<text x="0" y="0" transform="translate(517.6,386.9) scale(0.965,1)" font-size="13.0" font-weight="bold" text-anchor="start" text-rendering="geometricPrecision" stroke="#000" stroke-width="0.45" >T1</text>
<path d="M492.5,402.9H509" stroke="#f4b07a" stroke-width="1.5"/>
<rect x="499.08" y="401.28" width="3.24" height="3.24" fill="#f4b07a"/>
<text x="0" y="0" transform="translate(517.6,407.4) scale(0.965,1)" font-size="13.0" font-weight="bold" text-anchor="start" text-rendering="geometricPrecision" stroke="#000" stroke-width="0.45" >T2</text>
<path d="M492.5,423.4H509" stroke="#f54545" stroke-width="1.5"/>
<path d="M498.9,422.14L502.5,422.14L500.7,425.02Z" fill="#f54545"/>
<text x="0" y="0" transform="translate(517.6,427.9) scale(0.965,1)" font-size="13.0" font-weight="bold" text-anchor="start" text-rendering="geometricPrecision" stroke="#000" stroke-width="0.45" >T3</text>
<path d="M492.5,443.7H509" stroke="#12bf12" stroke-width="1.5"/>
<path d="M500.7,442.08L502.32,445L499.08,445Z" fill="#12bf12"/>
<text x="0" y="0" transform="translate(517.6,448.2) scale(0.965,1)" font-size="13.0" font-weight="bold" text-anchor="start" text-rendering="geometricPrecision" stroke="#000" stroke-width="0.45" >T4</text>
<path d="M492.5,464H496.1M499.1,464H504.3M507.4,464H508.9" stroke="#0a0aff" stroke-width="1.7"/>
<path d="M498.72,464L500.7,462.02L502.68,464L500.7,465.98Z" fill="#0a0aff"/>
<text x="0" y="0" transform="translate(517.6,468.5) scale(0.965,1)" font-size="13.0" font-weight="bold" text-anchor="start" text-rendering="geometricPrecision" stroke="#000" stroke-width="0.45" >Control</text>
</g>
</svg>
</body></html>
